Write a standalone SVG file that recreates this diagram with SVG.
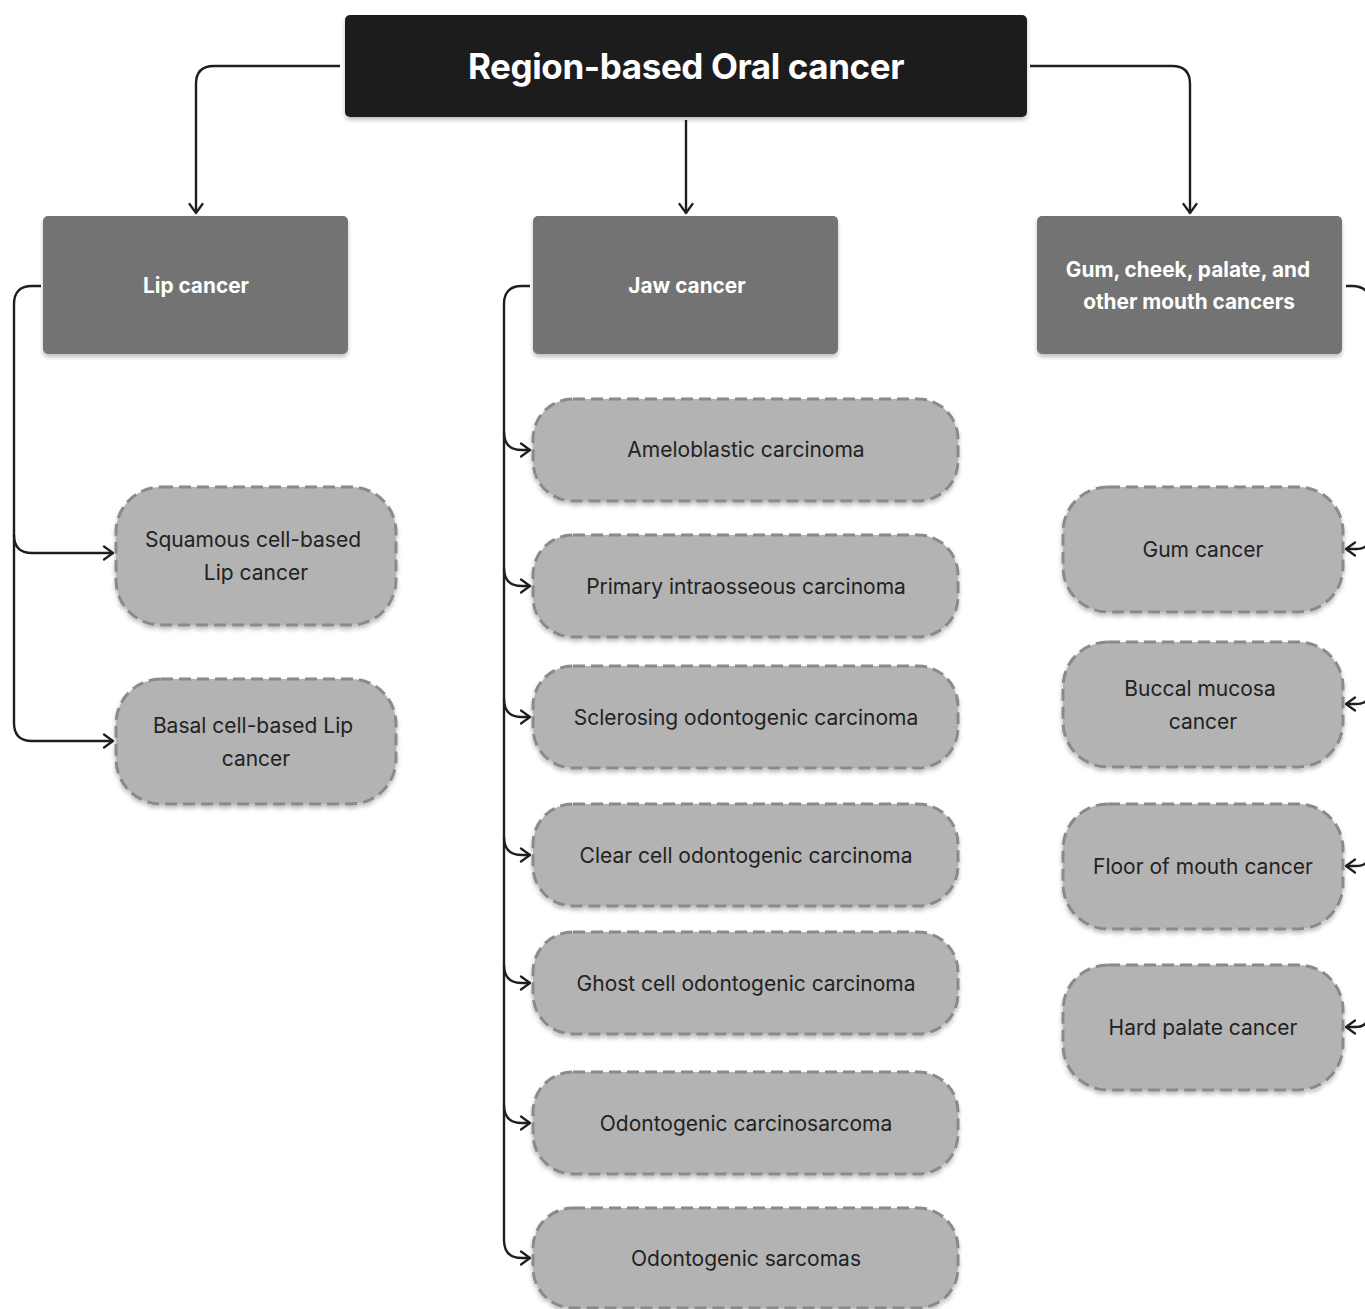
<svg xmlns="http://www.w3.org/2000/svg" width="1365" height="1309" viewBox="0 0 1365 1309">
  <style>
    .root rect { fill: #1e1e1e; }
    .root text { fill: #ffffff; font: 700 35px Inter, "Liberation Sans", sans-serif; letter-spacing: -0.4px; text-anchor: middle; }
    .cat rect { fill: #737373; }
    .cat text { fill: #ffffff; font: 700 20.8px Inter, "Liberation Sans", sans-serif; text-anchor: middle; }
    .leaf rect { fill: #b3b3b3; stroke: #8a8a8a; stroke-width: 3; stroke-dasharray: 12 6; }
    .leaf text { fill: #222222; font: 400 21px Inter, "Liberation Sans", sans-serif; text-anchor: middle; }
    .edges path { fill: none; stroke: #1e1e1e; stroke-width: 2.4; }
  </style>
  <defs>
    <filter id="shadow" x="-10%" y="-10%" width="120%" height="130%">
      <feDropShadow dx="0" dy="3" stdDeviation="2" flood-color="#000" flood-opacity="0.25"/>
    </filter>
    <marker id="arrow" viewBox="0 0 16 16" refX="14" refY="8" markerWidth="16" markerHeight="16" markerUnits="userSpaceOnUse" orient="auto">
      <path d="M5,1.5 L14,8 L5,14.5" fill="none" stroke="#1e1e1e" stroke-width="2.2" stroke-linecap="round" stroke-linejoin="round"/>
    </marker>
  </defs>

  <!-- connectors -->
  <g class="edges">
    <!-- root to categories -->
    <path d="M340,66 H214 Q196,66 196,84 V213" marker-end="url(#arrow)"/>
    <path d="M686,120 V213" marker-end="url(#arrow)"/>
    <path d="M1030,66 H1172 Q1190,66 1190,84 V213" marker-end="url(#arrow)"/>
    <!-- lip branch -->
    <path d="M41,286 H32 Q14,286 14,304 V535 Q14,553 32,553 H113" marker-end="url(#arrow)"/>
    <path d="M14,535 V723 Q14,741 32,741 H113" marker-end="url(#arrow)"/>
    <!-- jaw branch -->
    <path d="M530,286 H522 Q504,286 504,304 V1240 Q504,1258 522,1258 H530" marker-end="url(#arrow)"/>
    <path d="M504,432 Q504,450 522,450 H530" marker-end="url(#arrow)"/>
    <path d="M504,568 Q504,586 522,586 H530" marker-end="url(#arrow)"/>
    <path d="M504,699 Q504,717 522,717 H530" marker-end="url(#arrow)"/>
    <path d="M504,837 Q504,855 522,855 H530" marker-end="url(#arrow)"/>
    <path d="M504,965 Q504,983 522,983 H530" marker-end="url(#arrow)"/>
    <path d="M504,1105 Q504,1123 522,1123 H530" marker-end="url(#arrow)"/>
    <!-- gum / cheek / palate branch (trunk runs just past the right edge) -->
    <path d="M1346,286 H1352 Q1370,286 1370,304 V1009 Q1370,1027 1356,1027 H1346" marker-end="url(#arrow)"/>
    <path d="M1370,535 Q1370,549 1356,549 H1346" marker-end="url(#arrow)"/>
    <path d="M1370,690 Q1370,704 1356,704 H1346" marker-end="url(#arrow)"/>
    <path d="M1370,852 Q1370,866 1356,866 H1346" marker-end="url(#arrow)"/>
  </g>

  <!-- root -->
  <g id="node-root" class="root">
    <rect x="345" y="15" width="682" height="102" rx="5" filter="url(#shadow)"/>
    <text x="686" y="79">Region-based Oral cancer</text>
  </g>

  <!-- categories -->
  <g id="node-lip" class="cat">
    <rect x="43" y="216" width="305" height="138" rx="5" filter="url(#shadow)"/>
    <text x="196" y="293">Lip cancer</text>
  </g>
  <g id="node-jaw" class="cat">
    <rect x="533" y="216" width="305" height="138" rx="5" filter="url(#shadow)"/>
    <text x="687" y="293">Jaw cancer</text>
  </g>
  <g id="node-gum" class="cat">
    <rect x="1037" y="216" width="305" height="138" rx="5" filter="url(#shadow)"/>
    <text x="1188" y="277">Gum, cheek, palate, and</text>
    <text x="1189" y="309">other mouth cancers</text>
  </g>

  <!-- lip leaves -->
  <g id="node-squamous" class="leaf">
    <rect x="116" y="487" width="280" height="138" rx="45" filter="url(#shadow)"/>
    <text x="253" y="547">Squamous cell-based</text>
    <text x="256" y="580">Lip cancer</text>
  </g>
  <g id="node-basal" class="leaf">
    <rect x="116" y="679" width="280" height="125" rx="45" filter="url(#shadow)"/>
    <text x="253" y="733">Basal cell-based Lip</text>
    <text x="256" y="766">cancer</text>
  </g>

  <!-- jaw leaves -->
  <g id="node-ameloblastic" class="leaf">
    <rect x="533" y="399" width="425" height="102" rx="40" filter="url(#shadow)"/>
    <text x="746" y="457">Ameloblastic carcinoma</text>
  </g>
  <g id="node-intraosseous" class="leaf">
    <rect x="533" y="535" width="425" height="102" rx="40" filter="url(#shadow)"/>
    <text x="746" y="594">Primary intraosseous carcinoma</text>
  </g>
  <g id="node-sclerosing" class="leaf">
    <rect x="533" y="666" width="425" height="102" rx="40" filter="url(#shadow)"/>
    <text x="746" y="725">Sclerosing odontogenic carcinoma</text>
  </g>
  <g id="node-clear-cell" class="leaf">
    <rect x="533" y="804" width="425" height="102" rx="40" filter="url(#shadow)"/>
    <text x="746" y="863">Clear cell odontogenic carcinoma</text>
  </g>
  <g id="node-ghost-cell" class="leaf">
    <rect x="533" y="932" width="425" height="102" rx="40" filter="url(#shadow)"/>
    <text x="746" y="991">Ghost cell odontogenic carcinoma</text>
  </g>
  <g id="node-carcinosarcoma" class="leaf">
    <rect x="533" y="1072" width="425" height="102" rx="40" filter="url(#shadow)"/>
    <text x="746" y="1131">Odontogenic carcinosarcoma</text>
  </g>
  <g id="node-sarcomas" class="leaf">
    <rect x="533" y="1208" width="425" height="100" rx="40" filter="url(#shadow)"/>
    <text x="746" y="1266">Odontogenic sarcomas</text>
  </g>

  <!-- gum / cheek / palate leaves -->
  <g id="node-gum-leaf" class="leaf">
    <rect x="1063" y="487" width="280" height="125" rx="45" filter="url(#shadow)"/>
    <text x="1203" y="557">Gum cancer</text>
  </g>
  <g id="node-buccal" class="leaf">
    <rect x="1063" y="642" width="280" height="125" rx="45" filter="url(#shadow)"/>
    <text x="1200" y="696">Buccal mucosa</text>
    <text x="1203" y="729">cancer</text>
  </g>
  <g id="node-floor" class="leaf">
    <rect x="1063" y="804" width="280" height="125" rx="45" filter="url(#shadow)"/>
    <text x="1203" y="874">Floor of mouth cancer</text>
  </g>
  <g id="node-hard-palate" class="leaf">
    <rect x="1063" y="965" width="280" height="125" rx="45" filter="url(#shadow)"/>
    <text x="1203" y="1035">Hard palate cancer</text>
  </g>
</svg>
